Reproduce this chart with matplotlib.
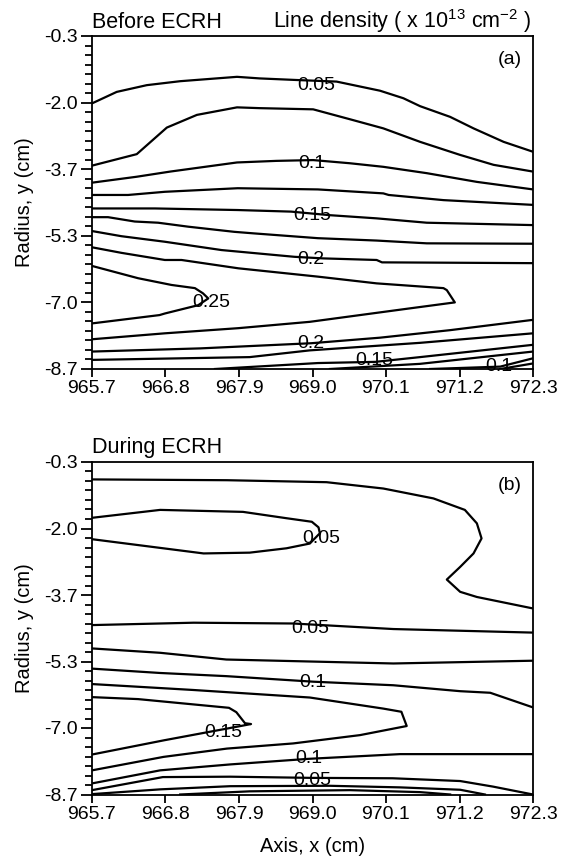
import numpy as np
import matplotlib.pyplot as plt

plt.rcParams['font.family'] = ['Liberation Sans', 'DejaVu Sans']
plt.rcParams['mathtext.fontset'] = 'custom'
plt.rcParams['mathtext.rm'] = 'Liberation Sans'

x_ticks = [965.7, 966.8, 967.9, 969.0, 970.1, 971.2, 972.3]
x_labels = ['965.7', '966.8', '967.9', '969.0', '970.1', '971.2', '972.3']
y_ticks = [-0.3, -1.98, -3.66, -5.34, -7.02, -8.7]
y_labels = ['-0.3', '-2.0', '-3.7', '-5.3', '-7.0', '-8.7']

# (a) before ECRH - contour lines (x, y in cm), top to bottom
a1 = ([965.70, 966.07, 966.52, 967.02, 967.87, 968.21, 968.76, 969.36, 970.01, 970.36, 970.61, 971.06, 971.41, 971.86, 972.30],
      [-2.00, -1.71, -1.54, -1.44, -1.33, -1.37, -1.41, -1.45, -1.68, -1.87, -2.07, -2.34, -2.63, -2.97, -3.22])
a2 = ([965.70, 966.37, 966.82, 967.27, 967.87, 968.21, 969.01, 969.56, 970.06, 970.61, 971.21, 971.71, 972.30],
      [-3.57, -3.28, -2.61, -2.29, -2.10, -2.12, -2.15, -2.40, -2.63, -2.97, -3.30, -3.55, -3.72])
a3 = ([965.70, 966.37, 966.87, 967.87, 968.46, 969.01, 969.56, 970.06, 970.71, 971.46, 972.30],
      [-4.00, -3.85, -3.72, -3.49, -3.45, -3.43, -3.51, -3.60, -3.76, -3.98, -4.17])
a4 = ([965.70, 966.24, 966.79, 967.88, 969.08, 970.06, 970.14, 970.96, 972.30],
      [-4.31, -4.31, -4.23, -4.14, -4.17, -4.27, -4.31, -4.44, -4.56])
a5 = ([965.70, 966.64, 967.88, 968.68, 969.26, 969.96, 970.71, 972.30],
      [-4.65, -4.65, -4.69, -4.73, -4.82, -4.90, -5.01, -5.07])
a6 = ([965.70, 965.94, 966.34, 966.69, 967.14, 967.83, 968.13, 969.08, 969.96, 970.71, 972.30],
      [-4.87, -4.87, -4.98, -5.01, -5.11, -5.24, -5.28, -5.40, -5.46, -5.53, -5.54])
a7 = ([965.70, 966.14, 966.79, 967.64, 968.73, 969.16, 969.96, 970.04, 972.30],
      [-5.22, -5.35, -5.49, -5.70, -5.87, -5.91, -5.95, -6.01, -6.03])
a8 = ([965.70, 966.14, 966.79, 967.04, 967.89, 969.08, 969.96, 970.96, 971.01, 971.13, 970.46, 969.71, 968.96, 967.89, 966.79, 965.70],
      [-5.63, -5.77, -5.95, -5.95, -6.16, -6.37, -6.54, -6.66, -6.71, -7.02, -7.17, -7.34, -7.51, -7.67, -7.80, -7.95])
a9 = ([965.70, 966.39, 966.89, 967.24, 967.36, 967.44, 967.29, 966.79, 966.71, 965.70],
      [-6.10, -6.41, -6.58, -6.66, -6.79, -6.92, -7.09, -7.30, -7.34, -7.55])
a10 = ([965.70, 967.32, 968.98, 970.01, 971.06, 972.30],
       [-8.26, -8.18, -8.05, -7.91, -7.72, -7.46])
a11 = ([965.70, 968.06, 968.96, 970.61, 972.30],
       [-8.47, -8.40, -8.23, -8.04, -7.80])
a12 = ([967.54, 969.08, 969.94, 970.61, 972.30],
       [-8.70, -8.55, -8.52, -8.40, -8.09])
a13 = ([969.26, 970.61, 972.30], [-8.70, -8.57, -8.26])
a14 = ([970.76, 971.81, 972.30], [-8.70, -8.64, -8.43])
a15 = ([971.81, 972.30], [-8.70, -8.56])

a_lab = ['0.05', '0.1', '0.15', '0.2', '0.25', '0.2', '0.15', '0.1']
a_lab_x = [969.06, 968.99, 969.00, 968.98, 967.48, 968.98, 969.92, 971.79]
a_lab_y = [-1.54, -3.51, -4.84, -5.95, -7.02, -8.05, -8.49, -8.64]

# (b) during ECRH
b1 = ([965.70, 967.72, 969.21, 970.06, 970.81, 971.28, 971.46, 971.53, 971.41, 971.21, 971.01, 971.21, 971.46, 972.30],
      [-0.74, -0.76, -0.81, -0.97, -1.22, -1.51, -1.85, -2.23, -2.61, -2.95, -3.27, -3.58, -3.71, -4.00])
b2 = ([965.70, 966.72, 967.96, 968.61, 968.99, 969.09, 969.11, 968.96, 968.61, 968.06, 967.37, 965.70],
      [-1.71, -1.51, -1.56, -1.72, -1.81, -1.95, -2.10, -2.36, -2.48, -2.59, -2.61, -2.25])
b3 = ([965.70, 967.22, 968.71, 970.21, 972.30], [-4.42, -4.36, -4.38, -4.52, -4.61])
b4 = ([965.70, 966.72, 967.71, 970.21, 972.30], [-5.01, -5.12, -5.29, -5.39, -5.32])
b5 = ([965.70, 966.72, 967.71, 969.01, 970.21, 971.21, 971.66, 972.30],
      [-5.52, -5.63, -5.71, -5.85, -5.94, -6.09, -6.13, -6.50])
b6 = ([965.70, 967.22, 968.96, 970.06, 970.33, 970.41, 969.71, 968.71, 967.72, 966.77, 965.70],
      [-5.91, -6.06, -6.25, -6.53, -6.61, -6.97, -7.20, -7.41, -7.54, -7.75, -8.09])
b7 = ([965.70, 966.39, 967.75, 967.86, 967.99, 968.08, 967.83, 966.78, 965.70],
      [-6.24, -6.29, -6.51, -6.62, -6.90, -6.92, -7.00, -7.33, -7.69])
b8 = ([965.70, 966.72, 967.77, 968.93, 970.31, 972.30], [-8.42, -8.09, -7.94, -7.80, -7.68, -7.68])
b9 = ([965.70, 966.76, 967.77, 968.99, 970.20, 971.21, 971.70, 972.30],
      [-8.59, -8.26, -8.25, -8.28, -8.29, -8.36, -8.50, -8.70])
b10 = ([965.70, 966.72, 967.77, 969.26, 970.31, 971.21, 971.58],
       [-8.69, -8.57, -8.49, -8.48, -8.52, -8.58, -8.70])
b11 = ([967.02, 968.06, 969.56, 970.61, 971.06], [-8.70, -8.62, -8.59, -8.64, -8.70])

b_lab = ['0.05', '0.05', '0.1', '0.15', '0.1', '0.05']
b_lab_x = [969.13, 968.96, 969.01, 967.66, 968.94, 969.00]
b_lab_y = [-2.23, -4.50, -5.88, -7.14, -7.80, -8.35]

fig = plt.figure(figsize=(5.66, 8.58), dpi=100)
ax_a = fig.add_axes([92 / 566, 1 - 369 / 858, 441 / 566, 333 / 858])
ax_b = fig.add_axes([92 / 566, 1 - 794.5 / 858, 441 / 566, 332.5 / 858])

panels = [
    (ax_a, [a1, a2, a3, a4, a5, a6, a7, a8, a9, a10, a11, a12, a13, a14, a15], a_lab, a_lab_x, a_lab_y, '(a)'),
    (ax_b, [b1, b2, b3, b4, b5, b6, b7, b8, b9, b10, b11], b_lab, b_lab_x, b_lab_y, '(b)'),
]

for ax, lines, lab, lx, ly, tag in panels:
    for xs, ys in lines:
        ax.plot(xs, ys, color='black', lw=1.6)
    for t, x, y in zip(lab, lx, ly):
        ax.text(x, y, t, ha='center', va='center', fontsize=14)
    ax.text(0.975, 0.93, tag, transform=ax.transAxes, ha='right', va='center', fontsize=14)

    ax.set_xlim(965.7, 972.3)
    ax.set_ylim(-8.7, -0.3)
    ax.set_xticks(x_ticks)
    ax.set_xticklabels(x_labels)
    ax.set_yticks(y_ticks)
    ax.set_yticklabels(y_labels)
    ax.set_yticks(np.linspace(-0.3, -8.7, 36), minor=True)
    ax.tick_params(axis='x', direction='out', length=5.5, width=1.3, pad=2.5, labelsize=14)
    ax.tick_params(axis='y', which='major', direction='out', length=8, width=1.3, pad=2, labelsize=14)
    ax.tick_params(axis='y', which='minor', direction='out', length=5, width=1.3)
    for s in ax.spines.values():
        s.set_linewidth(1.3)

fig.text(92 / 566, 1 - 28 / 858, 'Before ECRH', ha='left', va='baseline', fontsize=15.5)
fig.text(531 / 566, 1 - 28 / 858, 'Line density ( x 10$\\mathregular{^{13}}$ cm$\\mathregular{^{-2}}$ )',
         ha='right', va='baseline', fontsize=15.5)
fig.text(92 / 566, 1 - 453 / 858, 'During ECRH', ha='left', va='baseline', fontsize=15.5)

fig.text(25 / 566, 1 - 202 / 858, 'Radius, y (cm)', rotation=90, ha='center', va='center', fontsize=14.5)
fig.text(25 / 566, 1 - 628 / 858, 'Radius, y (cm)', rotation=90, ha='center', va='center', fontsize=14.5)
fig.text(312.5 / 566, 1 - 846 / 858, 'Axis, x (cm)', ha='center', va='center', fontsize=14.5)

fig.savefig('out.png', dpi=100)
